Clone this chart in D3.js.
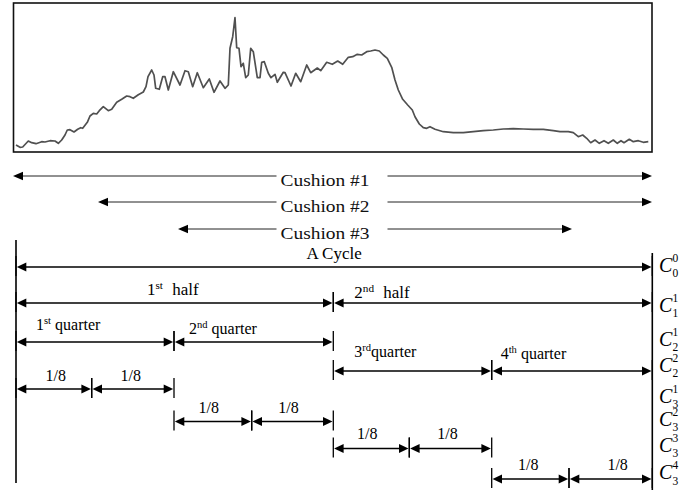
<!DOCTYPE html>
<html><head><meta charset="utf-8">
<script src="https://cdn.jsdelivr.net/npm/d3@7"></script>
<style>body{margin:0;background:#fff}svg{display:block}</style>
</head><body>
<svg id="c" width="700" height="495"></svg>
<script>
// Pressure trace over one cycle: sample time and amplitude
const time = [3,7,9.7,15.3,18.7,23,28.7,32,37,42,45.3,48.7,52,54.3,57,61,64.7,67.7,69.7,74.3,77,80.3,83.7,86.3,90.3,95.3,98.7,103.7,108.7,113.7,117,120.3,125.3,130.3,133,135,138.7,141,142.7,146.3,149.7,152,155.3,160.3,167,172,175.3,179.7,184.3,190.3,196.3,201,207,212,215.3,217,219.7,222,223.7,226,228,230.3,232.7,235.3,237.7,240.3,244.3,247,248.7,251.3,255.3,258,262,264.3,270.3,272,278,282.7,287.7,293.7,297.7,304.3,307.7,313.7,319.3,324.7,329.7,335.3,339.7,344.3,348.7,353.7,357.7,362,366.3,370.3,374.3,378.7,382,385.3,389.7,394.7,399.3,402,406.3,410.3,413.7,417,422,430.3,440.3,450.3,460.3,470.3,480.3,490.3,500.3,510.3,520.3,530.3,540.3,547,555.3,560.3,565.3,569.7,573.7,577.7,582,586.3,591,595.3,600.3,604.3,608,611,616.3,620.3,625.3,630.3,635.3];
const amplitude = [7,4.7,5,11,9.3,8.3,10.3,10,11.3,11,8.7,12,17,22,22.3,20,22.7,24.3,23.7,29.7,36,38.7,38,41.3,45.3,41.3,42.7,49.7,52.7,56,55.3,53.7,57.3,60,65.3,75.3,82,77,63.7,62.7,75.3,75.3,62,80.3,67,81.3,80.3,65.3,79.3,64.3,73,59.7,71,63.7,67,103.7,115.3,134.3,104.3,103.7,85.3,88.7,74.3,77,103.7,100.3,74.3,74.3,89.7,90.3,78.7,74.3,77.7,69.7,79.7,79.3,66,78.7,70.3,87,79.3,84,81.3,89.7,87.7,91,87.7,94.7,95.3,97.7,97,100.3,101,102,101,97,93.7,84.7,72,62,52.7,47,42,35.3,28,24.3,23.7,25.3,22.7,20.3,19.3,19.3,20.3,21.3,22,23,23.3,23,22.7,22.7,21.3,20.3,20.3,19.3,15.3,17,13.7,9.3,12,8.7,11.3,8.7,12,8.7,11.3,9.3,12.7,10.3,11.3,9.7,10.3];

// Cushion windows, in the same time units as the trace
const cushionNames = ["Cushion #1", "Cushion #2", "Cushion #3"];
const cushionStart = [0, 85, 165];
const cushionEnd = [639, 639, 559];

// Cycle division points (time units): start, eighths, end
const cycleMarks = [3, 78.7, 161, 238.7, 320.3, 396.3, 478.7, 556, 639.3];

// Segments of each level as index pairs into cycleMarks
const levelSegments = [
  [[0, 8]],
  [[0, 4], [4, 8]],
  [[0, 2], [2, 4]],
  [[4, 6], [6, 8]],
  [[0, 1], [1, 2]],
  [[2, 3], [3, 4]],
  [[4, 5], [5, 6]],
  [[6, 7], [7, 8]]
];
// Segment labels: [number, superscript, rest]
const levelLabels = [
  [["A Cycle", "", ""]],
  [["1", "st", " half"], ["2", "nd", " half"]],
  [["1", "st", " quarter"], ["2", "nd", " quarter"]],
  [["3", "rd", "quarter"], ["4", "th", " quarter"]],
  [["1/8", "", ""], ["1/8", "", ""]],
  [["1/8", "", ""], ["1/8", "", ""]],
  [["1/8", "", ""], ["1/8", "", ""]],
  [["1/8", "", ""], ["1/8", "", ""]]
];
// Level names C_sub^sup
const levelSub = [0, 1, 2, 2, 3, 3, 3, 3];
const levelSup = [0, 1, 1, 2, 1, 2, 3, 4];

// ---- layout ----
const SERIF = "'Liberation Serif','Times New Roman',serif";
const levelY = [267, 303, 342, 371, 389, 421.5, 448.5, 479];
// label placement per segment: [anchor, dx from segment start or mid, dy from row, font size, gap before rest]
const labelPlace = [
  [["mid", 0, -8, 17, 0]],
  [["start", 131, -8, 17, 5], ["start", 21, -5, 17, 5]],
  [["start", 20, -12.5, 16, 0], ["start", 15, -8.5, 16, 0]],
  [["start", 21, -14, 16, 0], ["start", 9, -12, 16, 0]],
  [["mid", 2, -8.5, 16, 0], ["mid", -2, -8.5, 16, 0]],
  [["mid", -4, -9, 16, 0], ["mid", -4, -9, 16, 0]],
  [["mid", -4, -9.5, 16, 0], ["mid", -3, -9.5, 16, 0]],
  [["mid", -2, -9, 16, 0], ["mid", 7, -9, 16, 0]]
];
const nameBaseline = [271.7, 311.7, 346, 371.7, 402.7, 426, 451.7, 479.3];
const cushionY = [176, 202, 229];
const cushionLabelX = 325;

const svg = d3.select("#c");
const x = d3.scaleLinear().domain([0, 640]).range([13, 653]);
const y = d3.scaleLinear().domain([0, 150]).range([152, 2]);

// trace frame
svg.append("rect")
  .attr("x", 13.5).attr("y", 3)
  .attr("width", x(639) - 13.5).attr("height", y(0) - 3)
  .attr("fill", "none").attr("stroke", "#111").attr("stroke-width", 1.6);

const line = d3.line().x((d, i) => x(time[i])).y(d => y(d));
svg.append("path")
  .attr("d", line(amplitude))
  .attr("fill", "none").attr("stroke", "#505050")
  .attr("stroke-width", 1.7).attr("stroke-linejoin", "round");

function head(g, tip, yy, dir, len, hw) {
  const b = tip - dir * len;
  g.append("path")
    .attr("d", `M${tip},${yy}L${b},${yy - hw}L${b},${yy + hw}Z`)
    .attr("fill", "#000");
}

// cushion windows
const cg = svg.append("g");
cushionNames.forEach((name, i) => {
  const yy = cushionY[i];
  cg.append("text")
    .attr("x", cushionLabelX).attr("y", yy + 9.5)
    .attr("text-anchor", "middle")
    .attr("font-family", SERIF).attr("font-size", 17)
    .attr("textLength", 89).attr("lengthAdjust", "spacingAndGlyphs")
    .attr("fill", "#111")
    .text(name);
  const x0 = x(cushionStart[i]), x1 = x(cushionEnd[i]);
  const gapL = cushionLabelX - 44.5 - 4, gapR = cushionLabelX + 44.5 + 18;
  cg.append("line").attr("x1", x0 + 8).attr("x2", gapL).attr("y1", yy).attr("y2", yy)
    .attr("stroke", "#222").attr("stroke-width", 1);
  cg.append("line").attr("x1", gapR).attr("x2", x1 - 8).attr("y1", yy).attr("y2", yy)
    .attr("stroke", "#222").attr("stroke-width", 1);
  head(cg, x0, yy, -1, 10, 4.2);
  head(cg, x1, yy, 1, 10, 4.2);
});

// cycle boundaries
const cx = i => x(cycleMarks[i]);
svg.append("line").attr("x1", cx(0)).attr("x2", cx(0)).attr("y1", 240).attr("y2", 483)
  .attr("stroke", "#000").attr("stroke-width", 1.6);
svg.append("line").attr("x1", cx(8)).attr("x2", cx(8)).attr("y1", 253).attr("y2", 490)
  .attr("stroke", "#000").attr("stroke-width", 1.6);

// levels of the cycle
const lg = svg.append("g");
levelSegments.forEach((segs, r) => {
  const yy = levelY[r];
  segs.forEach(([a, b], k) => {
    const x0 = cx(a), x1 = cx(b);
    lg.append("line").attr("x1", x0 + 6).attr("x2", x1 - 6).attr("y1", yy).attr("y2", yy)
      .attr("stroke", "#000").attr("stroke-width", 1.6);
    head(lg, x0 + 0.8, yy, -1, 9.5, 4.6);
    head(lg, x1 - 0.8, yy, 1, 9.5, 4.6);
    [x0, x1].forEach(xx => {
      lg.append("line").attr("x1", xx).attr("x2", xx).attr("y1", yy - 11).attr("y2", yy + 9)
        .attr("stroke", "#000").attr("stroke-width", 1.3);
    });
    const [base, sup, rest] = levelLabels[r][k];
    const [anchor, dx, dy, fs, gap] = labelPlace[r][k];
    const tx = anchor === "mid" ? (x0 + x1) / 2 + dx : x0 + dx;
    const t = lg.append("text")
      .attr("x", tx).attr("y", yy + dy)
      .attr("text-anchor", anchor === "mid" ? "middle" : "start")
      .attr("font-family", SERIF).attr("font-size", fs)
      .attr("fill", "#000");
    t.append("tspan").text(base);
    if (sup) {
      t.append("tspan").attr("font-size", fs * 0.66).attr("dy", -6).text(sup);
      t.append("tspan").attr("dy", 6).attr("dx", gap).text(rest);
    }
  });
});

// level names on the right
const ng = svg.append("g").attr("font-family", SERIF).attr("fill", "#000");
levelSub.forEach((s, r) => {
  const by = nameBaseline[r];
  const t = ng.append("text").attr("x", 659).attr("y", by);
  t.append("tspan").attr("font-size", 20).attr("font-style", "italic").text("C");
  t.append("tspan").attr("x", 672.5).attr("dy", -10).attr("font-size", 11.5).text(levelSup[r]);
  t.append("tspan").attr("x", 672.5).attr("dy", 15.3).attr("font-size", 11.5).text(s);
});
</script>
</body></html>
